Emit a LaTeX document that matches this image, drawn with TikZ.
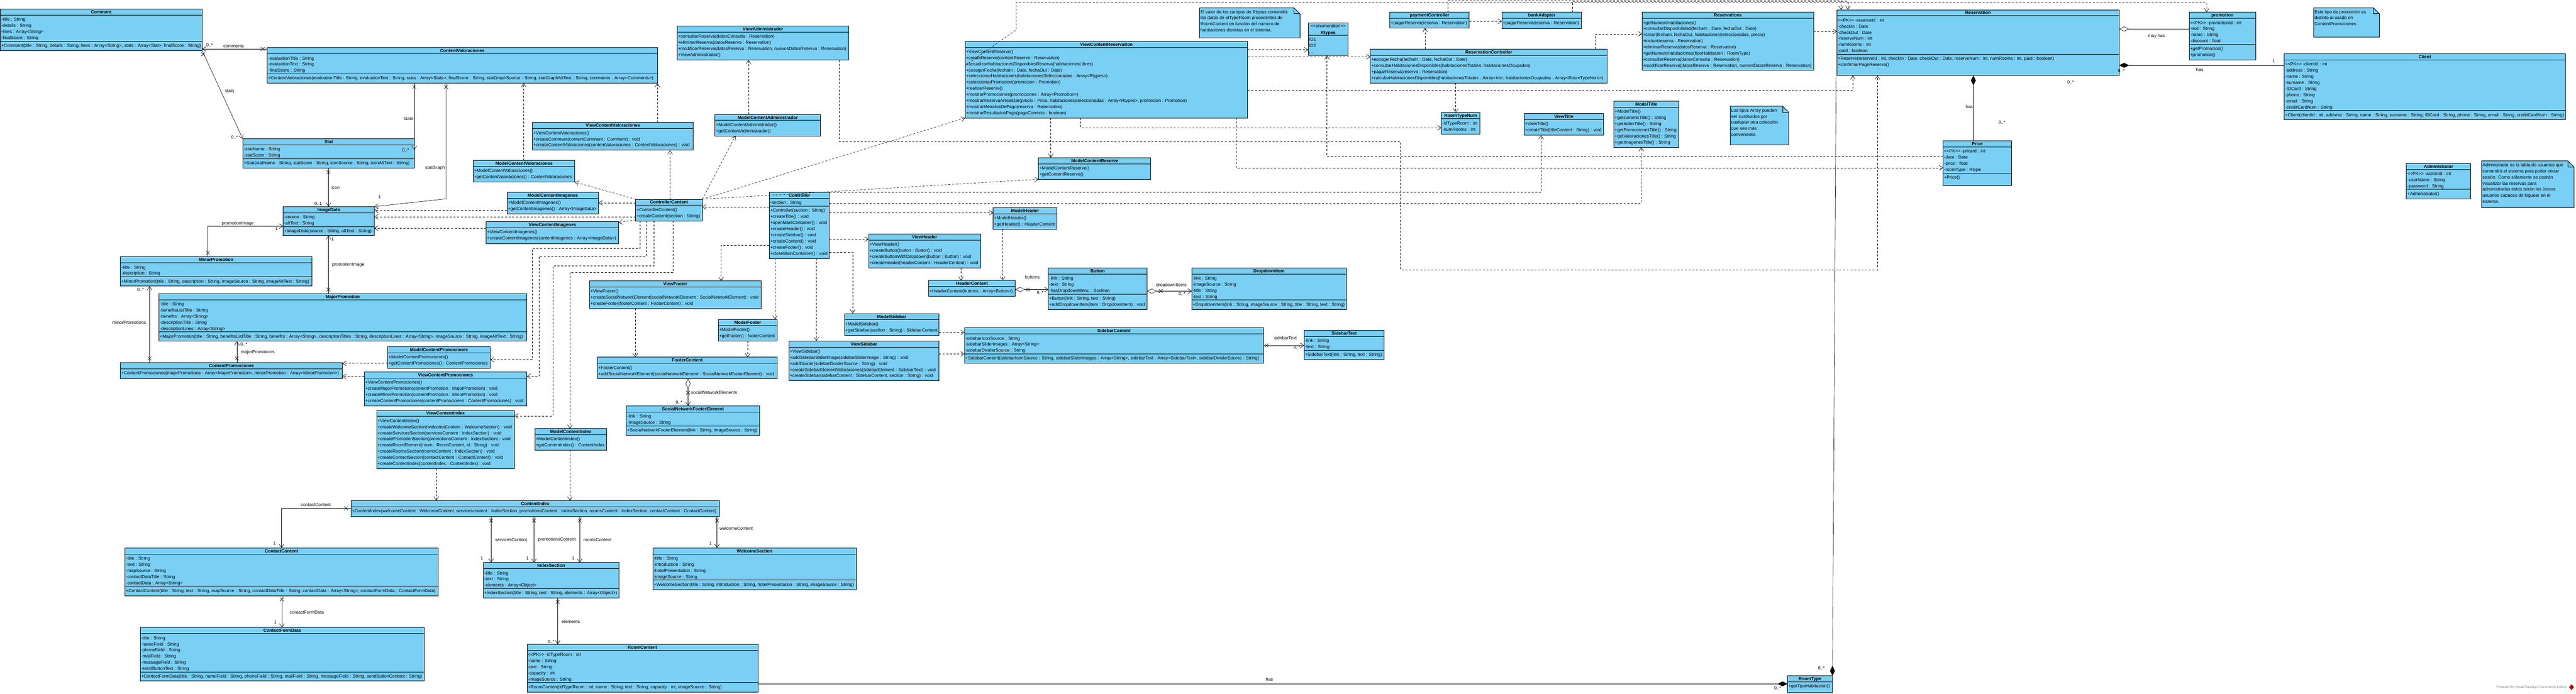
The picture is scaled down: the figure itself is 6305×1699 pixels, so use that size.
\documentclass[tikz,border=0pt]{standalone}
\usepackage{fontspec}
\setmainfont{Liberation Sans}
\usetikzlibrary{arrows.meta,calc}
\definecolor{clsblue}{RGB}{122,207,245}
\definecolor{vpgray}{RGB}{128,128,128}
\newcounter{lab}
\newcommand\classbox[9]{%
\node[cbox,minimum width=#4pt,minimum height=#5pt](#1)at(#2,#3){};
\node[ctit](#1t)at(#2+#4/2,#3+11.3){#6};
\draw[csep](#2,#3+15)--++(#4,0);
\ifnum#7>0
\foreach\t[count=\i]in{#8}\node[crow](#1a\i)at(#2+2,#3+29.3+15*\i-15){\t};
\draw[csep](#2,#3+19+15*#7)--++(#4,0);
\fi
\pgfmathsetmacro\ym{#3+15+(#7>0)*(4+15*#7)}
\foreach\t[count=\i]in{#9}\node[crow](#1m\i)at(#2+2,\ym+14.3+15*\i-15){\t};
}
\newcommand\notebox[6]{%
\node[inner sep=0,outer sep=0,minimum width=#4pt,minimum height=#5pt,anchor=north west](#1)at(#2,#3){};
\draw[nbox](#1.north west)--($(#1.north east)+(-15,0)$)--($(#1.north east)+(0,15)$)--(#1.south east)--(#1.south west)--cycle;
\draw[csep]($(#1.north east)+(-15,0)$)|-($(#1.north east)+(0,15)$);
\foreach\t[count=\i]in{#6}\node[crow](#1l\i)at(#2+2,#3+13.8+15*\i-15){\t};
}
\newcommand\xm[2]{\draw[lnk](#1-4.5,#2-4.5)--(#1+4.5,#2+4.5)(#1-4.5,#2+4.5)--(#1+4.5,#2-4.5);}
\newcommand\lab[4][center]{\stepcounter{lab}\node[lbl,anchor=#1](lab\thelab)at(#2,#3){#4};}
\begin{document}
\begin{tikzpicture}[x=1pt,y=-1pt,
cbox/.style={draw,fill=clsblue,line width=1.2pt,inner sep=0,outer sep=0,anchor=north west},
nbox/.style={draw,fill=clsblue,line width=1.2pt},
csep/.style={line width=1.2pt},
crow/.style={anchor=base west,inner sep=0,font=\fontsize{10.9}{12}\selectfont},
ctit/.style={anchor=base,inner sep=0,font=\bfseries\fontsize{10.9}{12}\selectfont},
lbl/.style={inner sep=0,font=\fontsize{10.9}{12}\selectfont},
>={Straight Barb[length=9pt,width=12pt]},
lnk/.style={line width=0.8pt},
dep/.style={lnk,dash pattern=on 5pt off 4pt,->},
asc/.style={lnk,->}]
\useasboundingbox[fill=white](0,0)rectangle(6305,1699);
\classbox{cmt}{1}{22}{494}{102}{Comment}{4}{-title : String,-details : String,-lines : Array<String>,-finalScore : String}{{+Comment(title : String, details : String, lines : Array<String>, stats : Array<Stat>, finalScore : String)}}
\classbox{cv}{654}{117}{955}{87}{ContentValoraciones}{3}{-evaluationTitle : String,-evaluationText : String,-finalScore : String}{{+ContentValoraciones(evaluationTitle : String, evaluationText : String, stats : Array<Stats>, finalScore : String, statGraphSource : String, statGraphAltText : String, comments : Array<Comments>)}}
\classbox{stat}{595}{340}{419}{72}{Stat}{2}{-statName : String,-statScore : String}{{+Stat(statName : String, statScore : String, iconSource : String, iconAltText : String)}}
\classbox{img}{693}{506}{223}{71}{ImageData}{2}{-source : String,-altText : String}{{+ImageData(source : String, altText : String)}}
\classbox{minp}{295}{629}{468}{72}{MinorPromotion}{2}{-title : String,-description : String}{{+MinorPromotion(title : String, description : String, imageSource : String, imageAltText : String)}}
\classbox{majp}{389}{719}{900}{117}{MajorPromotion}{5}{-title : String,-benefitsListTitle : String,-benefits : Array<String>,-descriptionTitle : String,-descriptionLines : Array<String>}{{+MajorPromotion(title : String, benefitsListTitle : String, benefits : Array<String>, descriptionTitles : String, descriptionLines : Array<String>, imageSource : String, imageAltText : String)}}
\classbox{cpr}{295}{888}{543}{40}{ContentPromociones}{0}{}{{+ContentPromociones(majorPromotions : Array<MajorPromotion>, minorPromotion : Array<MinorPromotion>)}}
\classbox{mcpr}{949}{849}{251}{53}{ModelContentPromociones}{0}{}{+ModelContentPromociones(),+getContentPromociones() : ContentPromociones}
\classbox{vcpr}{892}{911}{397}{83}{ViewContentPromociones}{0}{}{+ViewContentPromociones(),+createMajorPromotion(contentPromotion : MajorPromotion) : void,+createMinorPromotion(contentPromotion : MinorPromotion) : void,+createContentPromociones(contentPromociones : ContentPromociones) : void}
\classbox{vci}{922}{1005}{337}{143}{ViewContentIndex}{0}{}{+ViewContentIndex(),+createWelcomeSection(welcomeContent : WelcomeSection) : void,+createServicesSection(servicesContent : IndexSection) : void,+createPromotionSection(promotionsContent : IndexSection) : void,{+createRoomElement(room : RoomContent, id : String) : void},+createRoomsSection(roomsContent : IndexSection) : void,+createContactSection(contactContent : ContactContent) : void,+createContentIndex(contentIndex : ContentIndex) : void}
\classbox{mci}{1309}{1050}{176}{53}{ModelContentIndex}{0}{}{+ModelContentIndex(),+getContentIndex() : ContentIndex}
\classbox{ci}{859}{1226}{902}{39}{ContentIndex}{0}{}{{+ContentIndex(welcomeContent : WelcomeContent, servicescontent : IndexSection, promotionsContent : IndexSection, roomsContent : IndexSection, contactContent : ContactContent)}}
\classbox{ccon}{306}{1342}{766}{117}{ContactContent}{5}{-title : String,-text : String,-mapSource : String,-contactDataTitle : String,-contactData : Array<String>}{{+ContactContent(title : String, text : String, mapSource : String, contactDataTitle : String, contactData : Array<String>, contactFormData : ContactFormData)}}
\classbox{cfd}{343}{1537}{695}{131}{ContectFormData}{6}{-title : String,-nameField : String,-phoneField : String,-mailField : String,-messageField : String,-sendButtonText : String}{{+ContectFormData(title : String, nameField : String, phoneField : String, mailField : String, messageField : String, sendButtonContent : String)}}
\classbox{isec}{1183}{1378}{332}{87}{IndexSection}{3}{-title : String,-text : String,-elements : Array<Object>}{{+IndexSection(title : String, text : String, elements : Array<Object>)}}
\classbox{wsec}{1598}{1342}{498}{102}{WelcomeSection}{4}{-title : String,-introduction : String,-hotelPresentation : String,-imageSource : String}{{+WelcomeSection(title : String, introduction : String, hotelPresentation : String, imageSource : String)}}
\classbox{room}{1290}{1578}{565}{117}{RoomContent}{5}{<{}<PK>{}> -idTypeRoom : int,-name : String,-text : String,-capacity : int,-imageSource : String}{{+RoomContent(idTypeRoom : int, name : String, text : String, capacity : int, imageSource : String)}}
\classbox{rtyp}{4375}{1655}{110}{41}{RoomType}{0}{}{+getTipoHabitacion()}
\classbox{vadm}{1657}{64}{421}{83}{ViewAdministrador}{0}{}{+consultarReserva(datosConsulta : Reservation),+eliminarReserva(datosReserva : Reservation),{+modificarReserva(datosReserva : Reservation, nuevosDatosReserva : Reservation)},+ViewAdministrador()}
\classbox{madm}{1750}{280}{258}{53}{ModelContentAdministrador}{0}{}{+ModelContentAdministrador(),+getContentAdministrador()}
\classbox{vcv}{1303}{300}{394}{68}{ViewContentValoraciones}{0}{}{+ViewContentValoraciones(),+createComment(contentComment : Comment) : void,+createContentValoraciones(contentValoraciones : ContentValoraciones) : void}
\classbox{mcv}{1158}{393}{249}{53}{ModelContentValoraciones}{0}{}{+ModelContentValoraciones(),+getContentValoraciones() : ContentValoraciones}
\classbox{mcim}{1241}{471}{224}{53}{ModelContentImagenes}{0}{}{+ModelContentImagenes(),+getContentImagenes() : Array<ImageData>}
\classbox{vcim}{1190}{543}{324}{54}{ViewContentImagenes}{0}{}{+ViewContentImagenes(),+createContentImagenes(contentImagenes : Array<ImageData>)}
\classbox{ctc}{1556}{488}{163}{53}{ControllerContent}{0}{}{+ControllerContent(),+createContent(section : String)}
\classbox{ctl}{1883}{471}{147}{162}{Controller}{1}{-section : String}{+Controller(section : String),+createTitle() : void,+openMainContainer() : void,+createHeader() : void,+createSidebar() : void,+createContent() : void,+createFooter() : void,+closeMainContainer() : void}
\classbox{vhd}{2126}{573}{274}{83}{ViewHeader}{0}{}{+ViewHeader(),+createButton(button : Button) : void,+createButtonWithDropdown(button : Button) : void,+createHeader(headerContent : HeaderContent) : void}
\classbox{hdc}{2273}{687}{212}{39}{HeaderContent}{0}{}{+HeaderContent(buttons : Array<Button>)}
\classbox{mhd}{2431}{509}{156}{53}{ModelHeader}{0}{}{+ModelHeader(),+getHeader() : HeaderContent}
\classbox{btn}{2566}{656}{241}{102}{Button}{3}{-link : String,-text : String,-hasDropdownMenu : Boolean}{{+Button(link : String, text : String)},+addDropdownItem(item : DropdownItem) : void}
\classbox{ddi}{2917}{656}{378}{102}{DropdownItem}{4}{-link : String,-imageSource : String,-title : String,-text : String}{{+DropdownItem(link : String, imageSource : String, title : String, text : String)}}
\classbox{vft}{1443}{688}{420}{68}{ViewFooter}{0}{}{+ViewFooter(),+createSocialNetworkElement(socialNetworkElement : SocialNetworkElement) : void,+createFooter(footerContent : FooterContent) : void}
\classbox{mft}{1758}{782}{144}{53}{ModelFooter}{0}{}{+ModelFooter(),+getFooter() : footerContent}
\classbox{fc}{1462}{875}{440}{53}{FooterContent}{0}{}{+FooterContent(),+addSocialNetworkElement(socialNetworkElement : SocialNetworkFooterElement) : void}
\classbox{snf}{1533}{994}{326}{72}{SocialNetworkFooterElement}{2}{-link : String,-imageSource : String}{{+SocialNetworkFooterElement(link : String, imageSource : String)}}
\classbox{msb}{2067}{768}{231}{53}{ModelSidebar}{0}{}{+ModelSidebar(),+getSidebar(section : String) : SidebarContent}
\classbox{vsb}{1931}{835}{367}{98}{ViewSidebar}{0}{}{+ViewSidebar(),+addSidebarSliderImage(sidebarSliderImage : String) : void,+addDivider(sidebarDividerSource : String) : void,+createSidebarElementValoraciones(sidebarElement : SidebarText) : void,{+createSidebar(sidebarContent : SidebarContent, section : String) : void}}
\classbox{sbc}{2361}{803}{731}{87}{SidebarContent}{3}{-sidebarIconSource : String,-sidebarSliderImages : Array<String>,-sidebarDividerSource : String}{{+SidebarContent(sidebarIconSource : String, sidebarSliderImages : Array<String>, sidebarText : Array<SidebarText>, sidebarDividerSource : String)}}
\classbox{sbt}{3192}{809}{196}{72}{SidebarText}{2}{-link : String,-text : String}{{+SidebarText(link : String, text : String)}}
\classbox{vcr}{2362}{101}{692}{188}{ViewContentReservation}{0}{}{+ViewContentReserve(),+createReserve(contentReserve : Reservation),+actualizarHabitacionesDisponiblesReserva(habitacionesLibres),{+escogerFecha(fechaIn : Date, fechaOut : Date)},+seleccionarHabitaciones(habitacionesSeleccionadas : Array<Rtypes>),+seleccionarPromocion(promocion : Promotion),+realizarReserva(),+mostrarPromociones(promociones : Array<Promotion>),{+mostrarReservaARealizar(precio : Price, habitacionesSeleccionadas : Array<Rtypes>, promocion : Promotion)},+mostrarMetodosDePago(reserva : Reservation),+mostrarResultadosPago(pagoCorrecto : boolean)}
\classbox{mcr}{2542}{386}{275}{53}{ModelContentReserve}{0}{}{+ModelContentReserve(),+getContentReserve()}
\classbox{rsc}{3354}{120}{580}{83}{ReservationController}{0}{}{{+escogerFecha(fechaIn : Date, fechaOut : Date)},{+consultarHabitacionesDisponibles(habitacionesTotales, habitacionesOcupadas)},+pagarReserva(reserva : Reservation),{+calcularHabitacionesDisponibles(habitacionesTotales : Array<int>, habitacionesOcupadas : Array<RoomTypeNum>)}}
\classbox{pay}{3402}{30}{194}{39}{paymentController}{0}{}{+pagarReserva(reserva : Reservation)}
\classbox{bank}{3676}{30}{195}{40}{bankAdapter}{0}{}{+pagarReserva(reserva : Reservation)}
\classbox{rtn}{3528}{276}{94}{53}{RoomTypeNum}{0}{}{-idTypeRoom : int,-numRooms : int}
\classbox{rsv}{4019}{30}{420}{142}{Reservations}{0}{}{+getNumeroHabitaciones(),{+consultarDisponibilidad(fechaIn : Date, fechaOut : Date)},{+crear(fechaIn, fechaOut, habitacionesSeleccionadas, precio)},+incluir(reserva : Reservation),+eliminarReserva(datosReserva : Reservation),+getNumeroHabitaciones(tipoHabitacion : RoomType),+consultarReserva(datosConsulta : Reservation),{+modificarReserva(datosReserva : Reservation, nuevosDatosReserva : Reservation)}}
\classbox{res}{4496}{24}{691}{161}{Reservation}{6}{<{}<PK>{}> -reserveId : int,-checkIn : Date,-checkOut : Date,-reserveNum : int,-numRooms : int,-paid : boolean}{{+Reserve(reserveId : int, checkIn : Date, checkOut : Date, reserveNum : int, numRooms : int, paid : boolean)},+confirmarPagoReserva()}
\classbox{prm}{5358}{30}{163}{117}{promotion}{4}{<{}<PK>{}> -promotionId : int,-text : String,-name : String,-discount : float}{+getPromocion(),+promotion()}
\classbox{cli}{5591}{132}{688}{161}{Client}{8}{<{}<PK>{}> -clientId : int,-address : String,-name : String,-surname : String,-IDCard : String,-phone : String,-email : String,-creditCardNum : String}{{+Client(clientId : int, address : String, name : String, surname : String, IDCard : String, phone : String, email : String, creditCardNum : String)}}
\classbox{prc}{4756}{345}{167}{109}{Price}{4}{<{}<PK>{}> -priceId : int,-date : Date,-price : float,-roomType : Rtype}{+Price()}
\classbox{vtl}{3730}{278}{195}{53}{ViewTitle}{0}{}{+ViewTitle(),+createTitle(titleContent : String) : void}
\classbox{mtl}{3950}{248}{159}{113}{ModelTitle}{0}{}{+ModelTitle(),+getGenericTitle() : String,+getIndexTitle() : String,+getPromocionesTitle() : String,+getValoracionesTitle() : String,+getImagenesTitle() : String}
\classbox{adm}{5890}{400}{157}{87}{Administrator}{3}{<{}<PK>{}> -adminId : int,-userName : String,-password : String}{+Administrator()}
\node[cbox,minimum width=97pt,minimum height=80pt](rtp)at(3202,56){};
\node[crow,anchor=base](rtps)at(3250.5,67.8){<{}<enumeration>{}>};
\node[ctit](rtpt)at(3250.5,83.3){Rtypes};
\draw[csep](3202,86)--++(97,0);
\node[crow](rtp1)at(3204,100){ID1};
\node[crow](rtp2)at(3204,115){ID2};
\node[crow](rtp3)at(3204,130){...};
\notebox{na}{2936}{19}{246}{74}{El valor de los campos de Rtypes contendrá,los datos de idTypeRoom procedentes de,RoomContent en función del número de,habitaciones distintas en el sistema.}
\notebox{nb}{5663}{19}{161}{72}{Este tipo de promoción es,distinto al usado en,ContentPromociones}
\notebox{nc}{4235}{260}{143}{95}{Los tipos Array pueden,ser sustituidos por,cualquier otra colección,que sea más,conveniente.}
\notebox{nd}{6074}{394}{226}{115}{Administrator es la tabla de usuarios que,contendrá el sistema para poder iniciar,sesión. Como sólamente se podrán,visualizar las reservas para,administrarlas estos serán los únicos,usuarios capaces de loguear en el,sistema.}
\draw[asc]($(cv.north west)+(0,3)$)--($(cmt.north east)+(0,98)$);\xm{643}{120}
\lab{572}{113}{comments}\lab{513}{111}{0..*}
\draw[asc](cmt.south east)--($(stat.north west)+(-1,0)$);\xm{497}{133}
\lab{562}{223}{stats}\lab{574}{336}{0..*}
\draw[asc]($(cv.south west)+(360,0)$)--($(stat.north east)+(0,27)$);\xm{1014}{213}
\lab{1000}{291}{stats}\lab{993}{368}{0..*}
\draw[asc]($(cv.south west)+(438,0)$)--(1092,487)--(img.north east);\xm{1092}{213}
\lab[east]{1089}{411}{statGraph}\lab{929}{482}{1}
\draw[asc]($(stat.south west)+(209,0)$)--($(img.north west)+(111,0)$);\xm{804}{422}
\lab[west]{811}{460}{icon}\lab{779}{499}{0..1}
\draw[asc]($(minp.north west)+(214,0)$)|-($(img.north west)+(0,48)$);\xm{509}{619}
\lab{582}{548}{promotionImage}\lab{677}{561}{1}
\draw[asc]($(majp.north west)+(415,0)$)--($(img.south west)+(111,0)$);\xm{804}{709}
\lab{814}{586}{1}\lab[west]{813}{649}{promotionImage}
\draw[asc]($(cpr.north west)+(71,0)$)--($(minp.south west)+(71,0)$);\xm{366}{878}
\lab{344}{709}{0..*}\lab{316}{790}{minorPromotions}
\draw[asc]($(cpr.north west)+(285,0)$)--($(majp.south west)+(191,0)$);\xm{580}{878}
\lab{597}{843}{0..*}\lab{631}{863}{majorPromotions}
\draw[lnk,{Diamond[open,length=24pt,width=12pt]}->]($(fc.south west)+(222,0)$)--($(snf.north west)+(151,0)$);\xm{1684}{962}
\lab[west]{1691}{962}{socialNetworkElements}\lab{1662}{985}{0..*}
\draw[lnk,{Diamond[open,length=24pt,width=12pt]}->]($(hdc.north east)+(0,22)$)--($(btn.north west)+(0,53)$);\xm{2516}{709}
\lab{2527}{679}{buttons}\lab{2546}{717}{0..*}
\draw[lnk,{Diamond[open,length=24pt,width=12pt]}->]($(btn.north east)+(0,57)$)--($(ddi.north west)+(0,57)$);\xm{2841}{713}
\lab{2867}{699}{dropdownItems}\lab{2893}{720}{0..*}
\draw[asc]($(sbc.north east)+(0,43)$)--($(sbt.north west)+(0,37)$);\xm{3100}{846}
\lab{3146}{828}{sidebarText}\lab{3174}{851}{0..*}
\draw[asc]($(ci.north west)+(0,19)$)-|($(ccon.north west)+(383,0)$);\xm{847}{1245}
\lab{773}{1237}{contactContent}\lab{672}{1331}{1}
\draw[asc]($(ccon.south west)+(384,0)$)--($(cfd.north west)+(347,0)$);\xm{690}{1468}
\lab{751}{1500}{contactFormData}\lab{674}{1524}{1}
\draw[asc]($(ci.south west)+(343,0)$)--($(isec.north west)+(19,0)$);\xm{1202}{1275}
\lab{1251}{1322}{servicesContent}\lab{1179}{1368}{1}
\draw[asc]($(ci.south west)+(448,0)$)--($(isec.north west)+(124,0)$);\xm{1307}{1275}
\lab{1363}{1322}{promotionsContent}\lab{1291}{1368}{1}
\draw[asc]($(ci.south west)+(560,0)$)--($(isec.north west)+(236,0)$);\xm{1419}{1275}
\lab{1462}{1322}{roomsContent}\lab{1403}{1368}{1}
\draw[asc]($(ci.south west)+(896,0)$)--($(wsec.north west)+(157,0)$);\xm{1755}{1275}
\lab{1802}{1294}{welcomeContent}\lab{1739}{1331}{1}
\draw[asc]($(isec.south west)+(182,0)$)--($(room.north west)+(75,0)$);\xm{1365}{1474}
\lab{1397}{1522}{elements}\lab{1349}{1572}{0..*}
\draw[lnk,-{Diamond[length=24pt,width=12pt]}]($(room.north east)+(0,97)$)--($(rtyp.north west)+(0,20)$);
\lab{3107}{1664}{has}\lab{4351}{1685}{0..*}
\draw[lnk,-{Diamond[length=24pt,width=12pt]}]($(res.south west)+(-2,0)$)--(rtyp.north east);
\lab{4458}{1636}{0..*}
\draw[lnk,{Diamond[length=24pt,width=12pt]}-]($(res.south west)+(334,0)$)--($(prc.north west)+(74,0)$);
\lab{4820}{262}{has}\lab{4900}{299}{0..*}
\draw[lnk,{Diamond[open,length=24pt,width=12pt]}-]($(res.north east)+(0,47)$)--($(prm.north west)+(0,41)$);
\lab{5278}{88}{may has}
\draw[lnk,{Diamond[length=24pt,width=12pt]}-]($(res.north east)+(0,136)$)--($(cli.north west)+(0,28)$);
\lab{5384}{171}{has}\lab{5565}{150}{1}\lab{5192}{173}{0..*}\lab{5068}{201}{0..*}
\draw[dep]($(mcim.north west)+(0,44)$)--($(img.north east)+(0,9)$);
\draw[dep]($(ctc.north west)+(0,43)$)--($(img.north east)+(0,25)$);
\draw[dep]($(vcim.north west)+(0,16)$)--($(img.north east)+(0,53)$);
\draw[dep]($(mcpr.north west)+(0,41)$)--($(cpr.north east)+(0,2)$);
\draw[dep]($(vcpr.north west)+(0,11)$)--($(cpr.north east)+(0,34)$);
\draw[dep]($(mcv.north west)+(124,0)$)--($(cv.south west)+(628,0)$);
\draw[dep]($(vcv.north west)+(306,0)$)--(cv.south east);
\draw[dep]($(madm.north west)+(82,0)$)--($(vadm.south west)+(175,0)$);
\draw[dep](ctc.north west)--(mcv.south east);
\draw[dep]($(ctc.north west)+(0,9)$)--($(mcim.north east)+(0,26)$);
\draw[dep]($(ctc.south west)+(0,-2)$)--($(vcim.north east)+(0,2)$);
\draw[dep]($(ctc.north west)+(84,0)$)--($(vcv.south west)+(337,0)$);
\draw[dep](ctc.north east)--($(madm.south west)+(50,0)$);
\draw[dep](ctc.north east)--(vcr.south west);
\draw[dep](ctc.north east)--(mcr.south west);
\draw[dep]($(ctl.north west)+(0,36)$)--($(ctc.north east)+(0,19)$);
\draw[dep]($(ctc.south west)+(10,0)$)--++(0,67)-|(1303,881)--($(mcpr.north east)+(0,32)$);
\draw[dep]($(ctc.south west)+(26,0)$)--++(0,87)-|(1319,922)--($(vcpr.north east)+(0,11)$);
\draw[dep]($(ctc.south west)+(45,0)$)--++(0,110)-|(1353,1019)--($(vci.north east)+(0,14)$);
\draw[dep]($(ctc.south west)+(91,0)$)--++(0,126)-|($(mci.north west)+(86,0)$);
\draw[dep]($(vci.south west)+(146,0)$)--($(ci.north west)+(209,0)$);
\draw[dep]($(mci.south west)+(86,0)$)--($(ci.north west)+(536,0)$);
\draw[dep]($(ctl.north west)+(0,130)$)-|($(vft.north west)+(322,0)$);
\draw[dep]($(ctl.north east)+(0,147)$)-|($(msb.north west)+(20,0)$);
\draw[dep]($(ctl.south west)+(14,0)$)--($(mft.north west)+(139,0)$);
\draw[dep]($(ctl.south west)+(115,0)$)--($(vsb.north west)+(67,0)$);
\draw[dep]($(ctl.north east)+(0,115)$)--($(vhd.north west)+(0,13)$);
\draw[dep]($(vhd.south west)+(226,0)$)--($(hdc.north west)+(79,0)$);
\draw[dep]($(mhd.south west)+(23,0)$)--($(hdc.north west)+(181,0)$);
\draw[dep]($(ctl.north east)+(0,50)$)--($(mhd.north west)+(0,12)$);
\draw[dep](ctl.north east)-|($(vtl.south west)+(42,0)$);
\draw[dep]($(ctl.north east)+(0,27)$)-|($(mtl.south west)+(67,0)$);
\draw[dep]($(vft.south west)+(112,0)$)--($(fc.north west)+(93,0)$);
\draw[dep]($(mft.south west)+(72,0)$)--($(fc.north west)+(368,0)$);
\draw[dep]($(msb.north east)+(0,46)$)--($(sbc.north west)+(0,11)$);
\draw[dep]($(vsb.north east)+(0,32)$)--($(sbc.north west)+(0,64)$);
\draw[dep]($(vcr.north east)+(0,21)$)--($(rtp.north west)+(0,66)$);
\draw[dep]($(vcr.north east)+(0,38)$)--($(rsc.north west)+(0,19)$);
\draw[dep]($(vcr.north east)+(0,120)$)-|($(res.south west)+(39,0)$);
\draw[dep]($(vcr.south west)+(283,0)$)|-($(rtn.north west)+(0,37)$);
\draw[dep]($(vcr.south west)+(210,0)$)--($(mcr.north west)+(30,0)$);
\draw[dep]($(vcr.south west)+(663,0)$)|-($(prc.north west)+(0,66)$);
\draw[dep]($(prc.north west)+(0,38)$)-|($(rtp.south west)+(46,0)$);
\draw[dep]($(rsc.north west)+(134,0)$)--($(pay.south west)+(86,0)$);
\draw[dep]($(rsc.south west)+(209,0)$)--($(rtn.north west)+(35,0)$);
\draw[dep]($(rsc.north west)+(551,0)$)|-($(rsv.north west)+(0,53)$);
\draw[dep]($(pay.north east)+(0,22)$)--($(bank.north west)+(0,22)$);
\draw[dep]($(rsv.north east)+(0,47)$)--($(res.north west)+(0,53)$);
\draw[dep]($(pay.north west)+(142,0)$)--++(0,-28)-|($(res.north west)+(10,0)$);
\draw[dep]($(bank.north west)+(173,0)$)--++(0,-26.5)-|($(res.north west)+(27,0)$);
\draw[dep]($(vcr.north west)+(1,59)$)--(2487,73)--(2487,7)-|($(prm.north west)+(43,0)$);
\draw[dep]($(vadm.south west)+(398,0)$)--(2055,347)-|(3428,661)-|($(res.south west)+(99,0)$);
\node[inner sep=0,anchor=east,text=vpgray,font=\fontsize{8}{10}\selectfont](pwr)at(6283,1683){Powered By Visual Paradigm Community Edition};
\fill[red!70!black](6294,1676)--(6300,1683)--(6294,1690)--(6288,1683)--cycle;
\end{tikzpicture}
\end{document}
